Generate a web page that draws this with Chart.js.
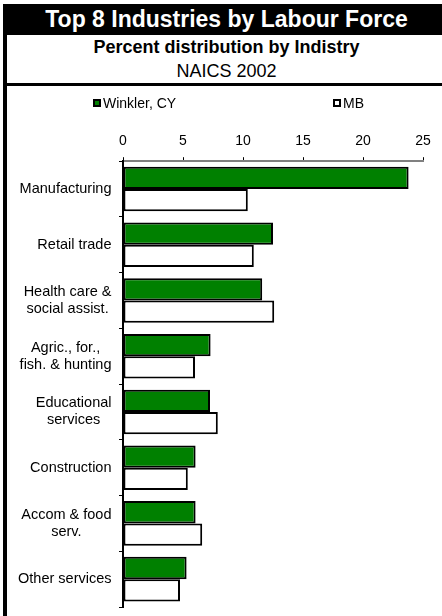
<!DOCTYPE html>
<html>
<head>
<meta charset="utf-8">
<script src="https://cdn.jsdelivr.net/npm/chart.js@4.4.0/dist/chart.umd.min.js"></script>
<style>
  body { margin: 0; width: 442px; height: 616px; overflow: hidden; background: #fff;
         font-family: "Liberation Sans", Arial, sans-serif; position: relative; }
  .abs { position: absolute; }
  .txt { left: 0; width: 453px; text-align: center; line-height: 1; white-space: nowrap; }
  .key { width: 8px; height: 8px; border: 2px solid #000; box-sizing: border-box; }
  .lbl { font-size: 14px; line-height: 1; white-space: nowrap; }
</style>
</head>
<body>
<div class="abs" style="left:3px;top:4px;width:4px;height:612px;background:#000"></div>
<div class="abs" style="left:3px;top:4px;width:439px;height:31px;background:#000"></div>
<div class="abs txt" style="top:7.5px;font-size:23px;font-weight:bold;color:#fff">Top 8 Industries by Labour Force</div>
<div class="abs txt" style="top:38px;font-size:18px;font-weight:bold">Percent distribution by Indistry</div>
<div class="abs txt" style="top:62px;font-size:18px">NAICS 2002</div>
<div class="abs" style="left:3px;top:83px;width:439px;height:3px;background:#000"></div>

<canvas id="myChart" class="abs" style="left:7px;top:86px" width="435" height="530"></canvas>

<div class="abs key" style="left:93px;top:98.5px;background:#008000"></div>
<div class="abs lbl" style="left:103px;top:95.5px">Winkler, CY</div>
<div class="abs key" style="left:333px;top:98.5px;background:#fff"></div>
<div class="abs lbl" style="left:343px;top:95.5px">MB</div>

<script>
// categories (each entry is the lines of one label)
var industries = [
    ['Manufacturing'],
    ['Retail trade'],
    ['Health care &', 'social assist.'],
    ['Agric., for.,', 'fish. & hunting'],
    ['Educational', 'services'],
    ['Construction'],
    ['Accom & food', 'serv.'],
    ['Other services']
];
var seriesNames = ['Winkler, CY', 'MB'];
var winkler = [23.8, 12.5, 11.6, 7.3, 7.25, 6.05, 6.05, 5.3];
var mb = [10.4, 10.9, 12.6, 6.0, 7.9, 5.4, 6.6, 4.75];
var xTicks = [0, 5, 10, 15, 20, 25];

Chart.defaults.font.family = '"Liberation Sans", Arial, sans-serif';
Chart.defaults.color = '#000';

// category labels: block right aligned, lines centred inside the block
var blockLabels = {
    id: 'blockLabels',
    afterDraw: function(chart) {
        var ctx = chart.ctx;
        var y = chart.scales.y;
        ctx.save();
        ctx.font = '14.5px "Liberation Sans", Arial, sans-serif';
        ctx.fillStyle = '#000';
        ctx.textAlign = 'center';
        ctx.textBaseline = 'middle';
        industries.forEach(function(lines, i) {
            var w = Math.max.apply(null, lines.map(function(l) { return ctx.measureText(l).width; }));
            var cx = y.right - 11.5 - w / 2;
            var cy = y.getPixelForValue(i);
            lines.forEach(function(l, j) {
                ctx.fillText(l, cx, cy + (j - (lines.length - 1) / 2) * 17);
            });
        });
        ctx.restore();
    }
};

var ctx = document.getElementById('myChart').getContext('2d');
var chart = new Chart(ctx, {
    type: 'bar',
    data: {
        labels: industries,
        datasets: [{
                label: seriesNames[0],
                data: winkler,
                backgroundColor: '#008000',
                borderColor: '#000',
                borderWidth: 2,
                borderSkipped: false
            },
            {
                label: seriesNames[1],
                data: mb,
                backgroundColor: '#fff',
                borderColor: '#000',
                borderWidth: 2,
                borderSkipped: false
            }
        ]
    },
    options: {
        indexAxis: 'y',
        responsive: false,
        animation: false,
        categoryPercentage: 0.8,
        barPercentage: 1,
        layout: { padding: { top: 38.6, right: 19, bottom: 9, left: 0 } },
        plugins: {
            legend: { display: false },
            tooltip: { enabled: false }
        },
        scales: {
            x: {
                position: 'top',
                min: xTicks[0],
                max: xTicks[xTicks.length - 1],
                afterBuildTicks: function(scale) {
                    scale.ticks = xTicks.map(function(v) { return { value: v }; });
                },
                ticks: { font: { size: 14 }, color: '#000', padding: 7.9 },
                grid: { drawOnChartArea: false, tickLength: 4, color: '#000' },
                border: { color: '#808080', width: 2 }
            },
            y: {
                ticks: { display: false },
                grid: { drawOnChartArea: false, tickLength: 4, color: '#000', offset: true },
                border: { color: '#000', width: 2 },
                afterFit: function(scale) { scale.width = 116; }
            }
        }
    },
    plugins: [blockLabels]
});
</script>
</body>
</html>
